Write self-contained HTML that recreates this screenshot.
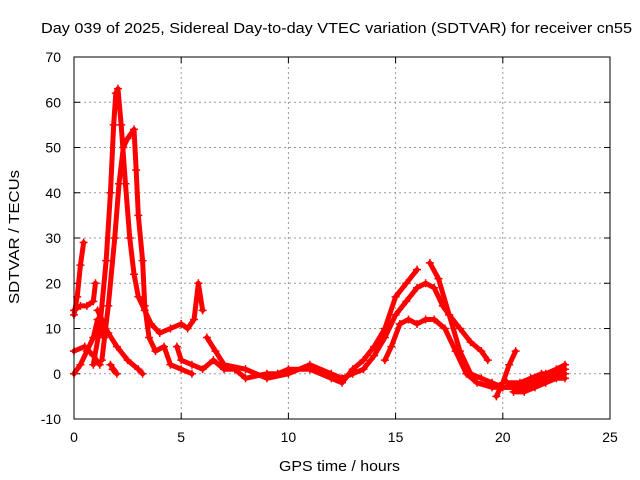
<!DOCTYPE html>
<html><head><meta charset="utf-8"><style>
body{margin:0;background:#fff}
svg{display:block;font-family:"Liberation Sans",sans-serif}
</style></head><body>
<svg id="chart" width="640" height="480">
<rect width="640" height="480" fill="#fff"/>
<text x="41" y="33" font-size="15" textLength="591" lengthAdjust="spacingAndGlyphs">Day 039 of 2025, Sidereal Day-to-day VTEC variation (SDTVAR) for receiver cn55</text>
<g id="grid"></g>
<g id="axes"></g>
<g id="marks"></g>
<rect x="74" y="57" width="536" height="362" fill="none" stroke="#000" stroke-width="1"/>
<text x="279" y="471" font-size="15" textLength="121" lengthAdjust="spacingAndGlyphs">GPS time / hours</text>
<text x="0" y="0" font-size="15" textLength="134" lengthAdjust="spacingAndGlyphs" transform="translate(19,304) rotate(-90)">SDTVAR / TECUs</text>
</svg>
<script>
const xTicks=[0,5,10,15,20,25];
const yTicks=[-10,0,10,20,30,40,50,60,70];
const s1=[[0.9,2],[1.2,10],[1.5,25],[1.7,40],[1.85,55],[1.95,62],[2.05,63],[2.2,55],[2.4,42],[2.6,30],[2.8,22],[3.0,17],[3.3,14],[3.6,11],[4.0,9],[4.5,10],[5.0,11],[5.3,10],[5.6,12],[5.8,20],[6.0,14]];
const s2=[[1.3,3],[1.6,15],[1.9,30],[2.1,42],[2.3,50],[2.5,52],[2.8,54],[2.9,45],[3.0,35],[3.2,25],[3.3,15],[3.5,8],[3.8,5],[4.2,6],[4.5,2],[5.0,1],[5.5,0]];
const s3=[[0,13],[0.15,17],[0.3,24],[0.45,29]];
const s4=[[0,14],[0.3,15],[0.6,15],[0.9,16],[1.0,20]];
const s5=[[1.1,14],[1.3,12],[1.6,9],[2.0,6],[2.5,3],[3.0,1],[3.2,0]];
const s6=[[0,0],[0.3,2],[0.6,5],[0.9,8],[1.1,12],[1.4,8]];
const s7=[[0,5],[0.5,6],[0.9,4],[1.2,2]];
const s8=[[1.8,1],[2.0,0],[1.7,2]];
const s9=[[4.8,6],[5.0,3],[5.5,2],[6.0,1],[6.5,3],[7,1],[7.5,1],[8,-1],[9,0],[9.5,0],[10,1],[11,1],[12,-1],[12.5,-2],[13,1],[13.5,3],[14,6],[14.5,10],[15,17],[15.5,20],[16,23]];
const s10=[[6.2,8],[6.6,5],[7,2],[8,1],[9,-1],[10,0],[11,2],[12,0],[12.5,-1],[13,0],[13.5,1],[14,4],[14.5,8],[15,13],[15.5,16],[16,19],[16.4,20],[16.8,19],[17.2,15],[17.5,13],[18,10],[18.5,7],[19,5],[19.3,3]];
const s11=[[14.5,3],[14.8,6],[15.2,11],[15.6,12],[16.0,11],[16.4,12],[16.8,12],[17.3,10],[17.8,5],[18.3,0],[18.8,-2],[19.5,-3],[20.5,-3],[21,-3]];
const s12=[[16.6,24.5],[17.0,21],[17.5,13],[18.0,5],[18.5,0],[19.0,-1],[19.5,-2],[20.0,-3]];
const s13=[[19.7,-5],[20.0,-2],[20.3,2],[20.6,5]];
const s14=[[20,-3],[20.5,-3],[21,-2],[21.5,-1],[22,0],[22.5,1],[22.9,2]];
const s15=[[20.5,-4],[21,-4],[21.5,-3],[22,-2],[22.5,-1],[22.9,-1]];
const s16=[[20.2,-2],[20.8,-2],[21.3,-1],[21.8,0],[22.3,0],[22.9,1]];
const s17=[[21,-3],[21.5,-2],[22,-1],[22.5,-0.5],[22.9,0]];
const series=[s1,s2,s3,s4,s5,s6,s7,s8,s9,s10,s11,s12,s13,s14,s15,s16,s17];
const X=h=>74+h*536/25;
const Y=v=>419-(v+10)*362/80;
const NS='http://www.w3.org/2000/svg';
const grid=document.getElementById('grid'),axes=document.getElementById('axes'),marks=document.getElementById('marks');
function mk(t,a,p){const e=document.createElementNS(NS,t);for(const k in a)e.setAttribute(k,a[k]);p.appendChild(e);return e;}
xTicks.forEach(t=>{
 const x=X(t);
 if(t>0&&t<25){const g=mk('line',{x1:x,x2:x,y1:57,y2:419,stroke:'#999','stroke-dasharray':'2,3'},grid);
 
 }
 mk('line',{x1:x,x2:x,y1:419,y2:413,stroke:'#000'},axes);
 mk('line',{x1:x,x2:x,y1:57,y2:63,stroke:'#000'},axes);
 const l=mk('text',{x:x,y:442,'font-size':14,'text-anchor':'middle'},axes);l.textContent=t;
 
 
});
yTicks.forEach(t=>{
 const y=Y(t);
 if(t>-10&&t<70){const g=mk('line',{x1:74,x2:610,y1:y,y2:y,stroke:'#999','stroke-dasharray':'2,3'},grid);
 
 }
 mk('line',{x1:74,x2:80,y1:y,y2:y,stroke:'#000'},axes);
 mk('line',{x1:604,x2:610,y1:y,y2:y,stroke:'#000'},axes);
 const l=mk('text',{x:61,y:y+5,'font-size':14,'text-anchor':'end'},axes);l.textContent=t;
 
 
});
series.forEach(s=>{
 const pl=mk('polyline',{points:s.map(p=>X(p[0])+','+Y(p[1])).join(' '),fill:'none',stroke:'#f00','stroke-width':5,'stroke-linejoin':'round','stroke-linecap':'round'},marks);
 
 
 s.forEach(p=>{
  const x=X(p[0]),y=Y(p[1]);
  const m=mk('path',{d:`M${x-4},${y}H${x+4}M${x},${y-4}V${y+4}`,stroke:'#f00','stroke-width':1.5},marks);
  
  
 });
});
</script>
</body></html>
